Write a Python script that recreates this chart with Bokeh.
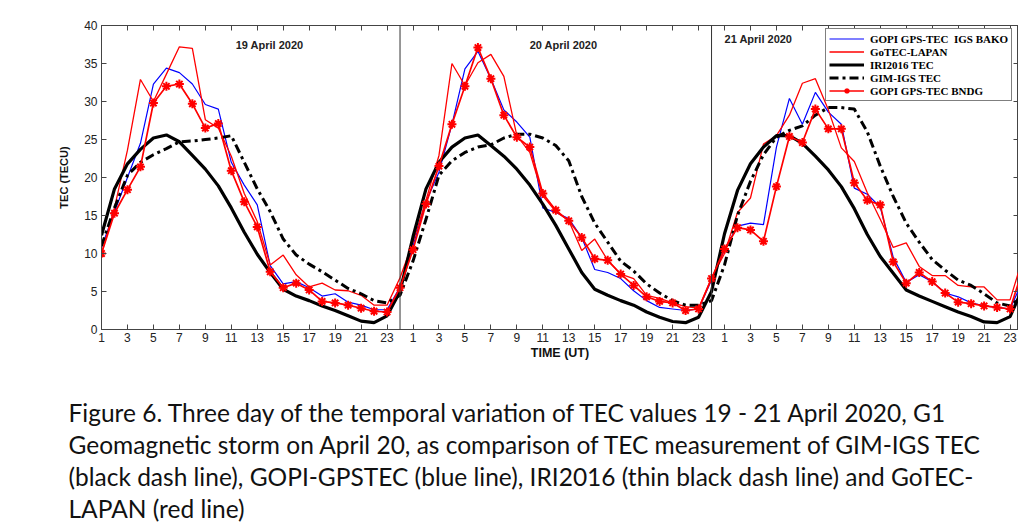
from bokeh.plotting import figure
from bokeh.layouts import column
from bokeh.models import Label, Span, Legend, LegendItem, LinearAxis, FixedTicker, Range1d
from bokeh.embed import file_html
from bokeh.resources import INLINE

# ---------------- data (hourly TEC, hours 1..24 of each day) ----------------
days = ["19 April 2020", "20 April 2020", "21 April 2020"]
hours = list(range(1, 25))
tick_hours = list(range(1, 24, 2))

bako_19 = [10.8, 15.5, 20.0, 24.5, 32.3, 34.4, 33.8, 32.3, 29.6, 29.0, 22.0, 19.0, 16.4, 8.4, 6.0, 6.3, 5.5, 4.4, 4.7, 3.6, 3.2, 2.6, 2.6, 5.6]
bako_20 = [11.0, 16.8, 20.7, 27.0, 34.3, 36.6, 33.0, 28.9, 27.3, 25.3, 16.0, 15.4, 14.6, 12.1, 7.9, 7.5, 6.7, 5.1, 3.8, 2.9, 2.7, 2.5, 2.7, 6.5]
bako_21 = [10.5, 13.6, 14.0, 13.8, 24.0, 30.4, 27.0, 31.2, 28.6, 27.0, 18.6, 17.8, 16.1, 9.5, 6.2, 7.2, 6.3, 4.8, 4.3, 3.5, 3.1, 2.9, 2.7, 6.5]

gotec_19 = [10.0, 16.0, 23.6, 32.9, 30.0, 33.6, 37.2, 37.0, 27.6, 26.5, 22.8, 17.9, 14.2, 8.5, 9.8, 7.2, 5.6, 6.1, 5.2, 5.1, 4.5, 3.2, 3.2, 6.8]
gotec_20 = [11.5, 17.0, 22.9, 35.0, 32.1, 35.1, 36.2, 33.3, 25.5, 23.3, 17.6, 15.5, 14.3, 10.4, 11.9, 9.1, 7.3, 6.7, 4.5, 4.1, 3.5, 3.0, 2.8, 6.8]
gotec_21 = [10.0, 15.4, 17.3, 24.4, 25.5, 28.2, 32.4, 33.0, 28.9, 23.9, 22.1, 18.0, 14.5, 10.8, 11.4, 8.3, 7.1, 7.1, 5.8, 5.6, 5.6, 3.9, 3.9, 9.5]

iri_19 = [12.4, 18.5, 21.8, 23.7, 25.2, 25.6, 24.7, 22.9, 21.1, 18.9, 16.0, 12.8, 9.9, 7.5, 5.3, 4.4, 3.8, 3.1, 2.5, 1.8, 1.1, 0.9, 1.8, 5.0]
iri_20 = [12.2, 18.5, 22.0, 24.0, 25.2, 25.6, 24.2, 22.8, 21.1, 19.0, 16.5, 13.7, 10.6, 7.5, 5.3, 4.5, 3.8, 3.2, 2.3, 1.6, 1.05, 0.9, 1.6, 5.0]
iri_21 = [12.6, 18.3, 21.8, 24.0, 25.5, 25.5, 24.5, 22.8, 21.0, 18.8, 15.9, 12.5, 9.6, 7.4, 5.2, 4.4, 3.7, 3.0, 2.3, 1.7, 1.0, 0.9, 1.7, 5.5]

gim_19 = [11.0, 16.0, 20.3, 22.0, 23.0, 23.8, 24.7, 24.8, 25.0, 25.2, 25.5, 22.0, 18.5, 15.5, 11.9, 9.8, 8.6, 7.6, 6.5, 5.4, 4.7, 3.8, 3.5, 4.5]
gim_20 = [9.0, 14.5, 20.3, 22.2, 23.3, 24.0, 24.3, 25.2, 25.7, 25.7, 25.2, 24.2, 22.2, 17.5, 14.0, 11.5, 9.0, 7.7, 6.0, 4.8, 3.8, 3.2, 3.2, 3.8]
gim_21 = [8.5, 15.0, 19.5, 23.0, 25.3, 26.2, 26.8, 28.2, 29.2, 29.2, 29.0, 26.0, 21.5, 17.5, 14.0, 11.5, 9.2, 7.8, 6.5, 5.8, 4.7, 3.5, 3.1, 4.5]

bndg_19 = [10.0, 15.3, 18.4, 21.4, 29.8, 32.0, 32.3, 29.7, 26.5, 27.1, 20.9, 16.8, 13.5, 7.6, 5.5, 6.1, 5.2, 3.7, 3.5, 3.2, 2.8, 2.4, 2.3, 5.5]
bndg_20 = [10.5, 16.5, 21.5, 27.0, 32.0, 37.1, 33.0, 28.2, 25.3, 24.0, 17.9, 15.7, 14.3, 12.1, 9.3, 9.1, 7.3, 5.8, 4.3, 3.7, 3.5, 2.5, 2.7, 6.7]
bndg_21 = [10.6, 13.4, 13.1, 11.6, 18.8, 25.4, 24.6, 29.0, 26.4, 26.4, 19.3, 17.0, 16.4, 8.9, 6.1, 7.5, 6.3, 4.8, 3.6, 3.4, 3.1, 2.9, 2.7, 8.0]

legend_labels = ["GOPI GPS-TEC  IGS BAKO", "GoTEC-LAPAN", "IRI2016 TEC", "GIM-IGS TEC", "GOPI GPS-TEC BNDG"]
caption_lines = [
    "Figure 6. Three day of the temporal variation of TEC values 19 - 21 April 2020, G1",
    "Geomagnetic storm on April 20, as comparison of TEC measurement of GIM-IGS TEC",
    "(black dash line), GOPI-GPSTEC (blue line), IRI2016 (thin black dash line) and GoTEC-",
    "LAPAN (red line)",
]

# continuous time axis: t = day_index*24 + hour
t = [d * 24 + h for d in range(3) for h in hours]
bako = bako_19 + bako_20 + bako_21
gotec = gotec_19 + gotec_20 + gotec_21
iri = iri_19 + iri_20 + iri_21
gim = gim_19 + gim_20 + gim_21
bndg = bndg_19 + bndg_20 + bndg_21

xticks = [d * 24 + h for d in range(3) for h in tick_hours]
xlabels = {d * 24 + h: str(h) for d in range(3) for h in tick_hours}

p = figure(width=1018, height=362, x_range=Range1d(1, 71.65), y_range=Range1d(0, 40),
           output_backend="svg", toolbar_location=None,
           min_border_left=101, min_border_right=0, min_border_top=25, min_border_bottom=33)
p.frame_align = False
p.background_fill_color = "white"
p.border_fill_color = "white"
p.xgrid.visible = False
p.ygrid.visible = False
p.outline_line_color = "#444444"

tick_font = "Liberation Sans"
axcol = "#444444"

for ax in p.xaxis:
    ax.ticker = FixedTicker(ticks=xticks)
    ax.major_label_overrides = xlabels
    ax.major_tick_in = 5
    ax.major_tick_out = 0
    ax.minor_tick_line_color = None
    ax.axis_line_color = axcol
    ax.major_tick_line_color = axcol
    ax.major_label_text_font = tick_font
    ax.major_label_text_font_size = "12px"
    ax.major_label_text_color = "#222222"
    ax.major_label_standoff = 3
    ax.axis_label = "TIME (UT)"
    ax.axis_label_text_font = "Liberation Sans"
    ax.axis_label_text_font_style = "bold"
    ax.axis_label_text_font_size = "12.5px"
    ax.axis_label_text_color = "#111111"
    ax.axis_label_standoff = 1

for ax in p.yaxis:
    ax.ticker = FixedTicker(ticks=list(range(0, 41, 5)))
    ax.major_tick_in = 5
    ax.major_tick_out = 0
    ax.minor_tick_line_color = None
    ax.axis_line_color = axcol
    ax.major_tick_line_color = axcol
    ax.major_label_text_font = tick_font
    ax.major_label_text_font_size = "12px"
    ax.major_label_text_color = "#222222"
    ax.major_label_standoff = 4
    ax.axis_label = "TEC (TECU)"
    ax.axis_label_text_font = "Liberation Sans"
    ax.axis_label_text_font_style = "bold"
    ax.axis_label_text_font_size = "11px"
    ax.axis_label_text_color = "#111111"
    ax.axis_label_standoff = 11

top_ax = LinearAxis(ticker=FixedTicker(ticks=xticks), major_tick_in=5, major_tick_out=0,
                    minor_tick_line_color=None, axis_line_color=axcol, major_tick_line_color=axcol,
                    major_label_text_font_size="1px", major_label_text_color=None,
                    major_label_standoff=0)
right_ax = LinearAxis(ticker=FixedTicker(ticks=list(range(0, 41, 5))), major_tick_in=5, major_tick_out=0,
                      minor_tick_line_color=None, axis_line_color=axcol, major_tick_line_color=axcol,
                      major_label_text_font_size="1px", major_label_text_color=None,
                      major_label_standoff=0)
p.add_layout(top_ax, "above")
p.add_layout(right_ax, "right")

# day separators
for d in (1, 2):
    p.add_layout(Span(location=d * 24, dimension="height", line_color="#333333", line_width=1))

# series
r_bako = p.line(t, bako, line_color="#0000ff", line_width=1.2)
r_gotec = p.line(t, gotec, line_color="#ff0000", line_width=1.3)
r_iri = p.line(t, iri, line_color="black", line_width=3.2)
r_gim = p.line(t, gim, line_color="black", line_width=3, line_dash="9 4 3 4")
r_bndg_l = p.line(t, bndg, line_color="#ff0000", line_width=1.7)
r_bndg_s = p.scatter(t, bndg, marker="asterisk", size=9, line_color="#ff0000", line_width=2)

legend = Legend(items=[
    LegendItem(label=legend_labels[0], renderers=[r_bako]),
    LegendItem(label=legend_labels[1], renderers=[r_gotec]),
    LegendItem(label=legend_labels[2], renderers=[r_iri]),
    LegendItem(label=legend_labels[3], renderers=[r_gim]),
    LegendItem(label=legend_labels[4], renderers=[r_bndg_l, r_bndg_s]),
], location=(724, 228))
legend.label_text_font = "Liberation Serif"
legend.label_text_font_style = "bold"
legend.label_text_font_size = "11px"
legend.label_text_color = "black"
legend.label_height = 13
legend.glyph_height = 13
legend.glyph_width = 35
legend.label_standoff = 6
legend.spacing = 0
legend.padding = 3
legend.margin = 0
legend.border_line_color = "black"
legend.border_line_width = 1
legend.background_fill_color = "white"
legend.background_fill_alpha = 1
p.add_layout(legend)

# day titles
day_pos = [(13.95, 37.5, "center"), (36.6, 37.5, "center"), (49.0, 38.2, "left")]
for (x, y, al), txt in zip(day_pos, days):
    p.add_layout(Label(x=x, y=y, text=txt, text_align=al, text_baseline="middle",
                       text_font="Liberation Sans", text_font_style="bold",
                       text_font_size="11px", text_color="#222222"))

# caption panel (no axes, frame fills the canvas)
cap = figure(width=1018, height=160, x_range=Range1d(0, 1018), y_range=Range1d(160, 0),
             output_backend="svg", toolbar_location=None,
             x_axis_location=None, y_axis_location=None,
             min_border_left=0, min_border_right=0, min_border_top=0, min_border_bottom=0)
cap.frame_align = False
cap.xgrid.visible = False
cap.ygrid.visible = False
cap.outline_line_color = None
cap.background_fill_color = "white"
cap.border_fill_color = "white"
for i, line in enumerate(caption_lines):
    cap.add_layout(Label(x=68, y=50 + 32 * i, text=line, text_align="left",
                         text_baseline="alphabetic", text_font="Lato",
                         text_font_size="24.5px", text_color="#111111"))

layout = column(p, cap, spacing=0)
open("out.html", "w").write(file_html(layout, INLINE))
